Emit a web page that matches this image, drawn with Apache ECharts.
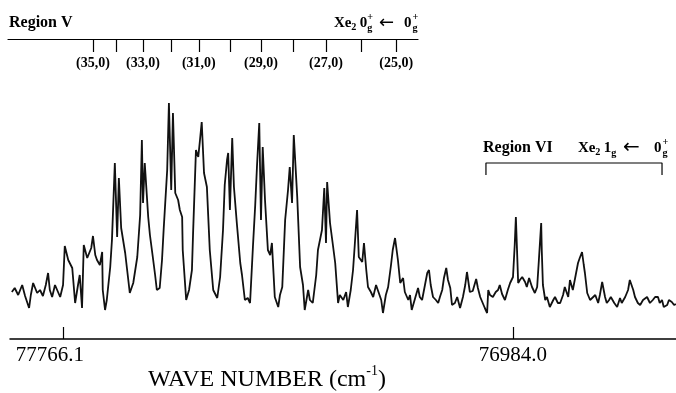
<!DOCTYPE html>
<html>
<head>
<meta charset="utf-8">
<script src="https://cdn.jsdelivr.net/npm/echarts@6/dist/echarts.min.js"></script>
<style>
  html, body { margin: 0; padding: 0; background: #fff; }
  #chart { width: 676px; height: 393px; }
</style>
</head>
<body>
<div id="chart"></div>
<script>
// spectrum trace (wave number in cm-1, signal in arbitrary units)
const waveNumber = [
  77855, 77850, 77844, 77837, 77832, 77825, 77822, 77818, 77811, 77806,
  77801, 77796, 77792, 77789, 77785, 77780, 77777, 77771, 77766, 77763,
  77757, 77754, 77750, 77745, 77740, 77737, 77733, 77730, 77724, 77721,
  77717, 77714, 77710, 77707, 77702, 77698, 77697, 77693, 77690, 77684,
  77681, 77676, 77672, 77669, 77665, 77664, 77658, 77655, 77650, 77644,
  77637, 77632, 77629, 77627, 77624, 77618, 77615, 77610, 77606, 77603,
  77598, 77594, 77591, 77585, 77582, 77578, 77575, 77571, 77566, 77563,
  77559, 77558, 77552, 77547, 77542, 77540, 77535, 77531, 77528, 77525,
  77521, 77516, 77511, 77505, 77498, 77493, 77488, 77485, 77481, 77479,
  77476, 77472, 77469, 77464, 77458, 77455, 77450, 77445, 77441, 77436,
  77432, 77429, 77425, 77422, 77419, 77415, 77410, 77406, 77403, 77398,
  77392, 77389, 77385, 77380, 77375, 77372, 77368, 77365, 77359, 77354,
  77349, 77346, 77340, 77337, 77332, 77326, 77323, 77316, 77312, 77309,
  77307, 77302, 77297, 77293, 77288, 77285, 77279, 77274, 77271, 77266,
  77262, 77259, 77255, 77252, 77246, 77243, 77239, 77236, 77231, 77227,
  77222, 77219, 77213, 77210, 77205, 77201, 77196, 77193, 77189, 77184,
  77180, 77175, 77172, 77166, 77163, 77160, 77154, 77149, 77146, 77142,
  77137, 77133, 77130, 77127, 77123, 77118, 77114, 77111, 77107, 77104,
  77100, 77097, 77093, 77090, 77085, 77081, 77076, 77071, 77067, 77064,
  77059, 77054, 77048, 77045, 77041, 77038, 77033, 77029, 77027, 77024,
  77019, 77014, 77010, 77007, 77003, 76998, 76993, 76989, 76984, 76981,
  76979, 76977, 76975, 76972, 76968, 76963, 76960, 76956, 76951, 76946,
  76942, 76939, 76935, 76934, 76932, 76928, 76925, 76920, 76914, 76911,
  76906, 76902, 76897, 76894, 76888, 76885, 76880, 76875, 76871, 76868,
  76864, 76861, 76859, 76855, 76850, 76847, 76841, 76836, 76833, 76829,
  76824, 76821, 76817, 76814, 76808, 76803, 76798, 76795, 76789, 76784,
  76781, 76775, 76772, 76767, 76763, 76758, 76755, 76751, 76746, 76741,
  76737, 76732, 76729, 76725, 76722, 76716, 76713, 76708, 76704, 76701
];
const signal = [
  47, 51, 44, 54, 43, 31, 44, 56, 46, 49,
  43, 54, 66, 49, 42, 54, 52, 42, 54, 93,
  79, 77, 71, 36, 54, 64, 31, 94, 81, 82,
  91, 103, 84, 79, 74, 87, 49, 29, 39, 72,
  99, 176, 102, 161, 111, 109, 86, 71, 46, 56,
  82, 124, 199, 136, 176, 122, 104, 82, 64, 49,
  51, 79, 111, 169, 236, 149, 226, 146, 139, 129,
  122, 89, 39, 49, 69, 106, 189, 182, 199, 217,
  166, 152, 89, 49, 41, 62, 109, 154, 179, 186,
  129, 201, 152, 116, 76, 64, 39, 41, 36, 92,
  134, 172, 216, 119, 192, 139, 89, 84, 96, 42,
  32, 44, 52, 119, 149, 172, 136, 204, 142, 72,
  54, 29, 49, 39, 36, 64, 89, 109, 151, 96,
  157, 116, 94, 76, 36, 44, 39, 47, 32, 49,
  69, 94, 129, 82, 77, 96, 69, 52, 47, 42,
  54, 49, 39, 26, 44, 52, 74, 89, 101, 79,
  56, 61, 47, 39, 44, 29, 41, 51, 42, 39,
  54, 66, 69, 54, 42, 39, 36, 42, 49, 61,
  71, 59, 51, 34, 36, 42, 31, 42, 54, 67,
  47, 48, 60, 51, 42, 42, 31, 26, 49, 44,
  42, 47, 49, 54, 45, 39, 49, 56, 62, 94,
  122, 89, 56, 59, 62, 57, 52, 61, 52, 46,
  52, 79, 116, 89, 54, 39, 42, 32, 39, 42,
  36, 36, 44, 52, 42, 59, 49, 64, 76, 81,
  87, 74, 66, 46, 39, 39, 44, 36, 44, 57,
  42, 36, 39, 42, 36, 32, 41, 36, 42, 49,
  59, 49, 42, 36, 34, 39, 41, 42, 36, 39,
  42, 42, 36, 39, 32, 34, 39, 37, 34, 35
];

// bottom axis marks
const wnTicks = [77766.1, 76984.0];

// Region V band heads (v',0) of Xe2 0g+ <- 0g+
const bandV = [35, 34, 33, 32, 31, 30, 29, 28, 27, 26, 25];
const bandWn = [77714, 77674, 77627, 77578, 77530, 77476, 77422, 77366, 77309, 77248, 77187];
const bandLabelled = [35, 33, 31, 29, 27, 25];

// Region VI span
const regionVI = [77031, 76725];
const bracketLevels = [164, 176];

const SERIF = '"Liberation Serif", "Times New Roman", serif';

const chart = echarts.init(document.getElementById('chart'));

const trace = waveNumber.map((w, i) => [w, signal[i]]);
const bracket = [
  [regionVI[0], bracketLevels[0]],
  [regionVI[0], bracketLevels[1]],
  [regionVI[1], bracketLevels[1]],
  [regionVI[1], bracketLevels[0]]
];

function txt(x, y, text, size, weight) {
  return {
    type: 'text', x: x, y: y,
    style: {
      text: text, fill: '#000', verticalAlign: 'middle',
      font: (weight || 'bold') + ' ' + size + 'px ' + SERIF
    }
  };
}

// Xe2 N_g(+) <- 0_g+ label built from pieces
function xeLabel(x, y, size, level, levelPlus, arrowX, arrowSize, endX) {
  const s = size * 0.68;
  const k = size / 14;
  const kids = [
    txt(0, 0, 'Xe', size),
    txt(16 * k, 4 * k, '2', s),
    txt(24 * k, 0, level, size),
    txt(31 * k, 5 * k, 'g', s),
    {
      type: 'text', x: arrowX, y: 0,
      style: { text: '\u2190', fill: '#000', verticalAlign: 'middle', font: arrowSize + 'px "DejaVu Sans"' }
    },
    txt(endX, 0, '0', size),
    txt(endX + 8 * k, 5 * k, 'g', s),
    txt(endX + 8 * k, -5 * k, '+', s)
  ];
  if (levelPlus) kids.push(txt(31 * k, -5 * k, '+', s));
  return { type: 'group', x: x, y: y, children: kids };
}

const option = {
  animation: false,
  backgroundColor: '#fff',
  grid: [
    { left: 10, right: 0, top: 89, bottom: 54 },
    { left: 8, width: 410, top: 39, height: 20 }
  ],
  xAxis: [
    {
      type: 'value',
      gridIndex: 0,
      inverse: true,
      min: 76700.7,
      max: 77858.2,
      axisLine: { onZero: false, lineStyle: { color: '#000', width: 1.5 } },
      axisTick: { inside: true, length: 12, customValues: wnTicks, lineStyle: { color: '#000', width: 1.2 } },
      axisLabel: {
        customValues: wnTicks,
        // the left label sits a little left of its tick in the original
        formatter: v => v > 77000 ? '{l|' + v.toFixed(1) + '}' : '{n|' + v.toFixed(1) + '}',
        rich: {
          l: { fontFamily: SERIF, fontSize: 21, color: '#000', padding: [0, 26, 0, 0] },
          n: { fontFamily: SERIF, fontSize: 21, color: '#000' }
        },
        margin: 6
      },
      splitLine: { show: false }
    },
    {
      type: 'value',
      gridIndex: 1,
      position: 'top',
      inverse: true,
      min: 77149.1,
      max: 77861.7,
      axisLine: { onZero: false, lineStyle: { color: '#000', width: 1.2 } },
      axisTick: { inside: true, length: 13, customValues: bandWn, lineStyle: { color: '#000', width: 1.2 } },
      axisLabel: {
        inside: true,
        customValues: bandLabelled.map(v => bandWn[bandV.indexOf(v)]),
        formatter: w => '(' + bandV[bandWn.indexOf(w)] + ',0)',
        color: '#000',
        fontFamily: SERIF,
        fontWeight: 'bold',
        fontSize: 14,
        margin: 17
      },
      splitLine: { show: false }
    }
  ],
  yAxis: [
    { type: 'value', gridIndex: 0, min: 0, max: 250, show: false },
    { type: 'value', gridIndex: 1, min: 0, max: 1, show: false }
  ],
  series: [
    {
      type: 'line',
      xAxisIndex: 0,
      yAxisIndex: 0,
      data: trace,
      showSymbol: false,
      lineStyle: { color: '#111', width: 1.8 }
    },
    {
      type: 'line',
      xAxisIndex: 0,
      yAxisIndex: 0,
      data: bracket,
      showSymbol: false,
      lineStyle: { color: '#000', width: 1.2 }
    }
  ],
  graphic: [
    txt(9, 23, 'Region V', 16),
    xeLabel(334, 23, 15, '0', true, 45, 18, 70),
    txt(483, 148, 'Region VI', 16),
    xeLabel(578, 148, 15, '1', false, 45, 20, 76),
    {
      type: 'text', x: 148, y: 378,
      style: {
        text: '{a|WAVE NUMBER (cm}{s|-1}{a|)}',
        verticalAlign: 'middle',
        rich: {
          a: { fontFamily: SERIF, fontSize: 24, color: '#000', lineHeight: 28, verticalAlign: 'bottom' },
          s: { fontFamily: SERIF, fontSize: 14, color: '#000', lineHeight: 28, verticalAlign: 'top' }
        }
      }
    }
  ]
};

chart.setOption(option);
</script>
</body>
</html>
